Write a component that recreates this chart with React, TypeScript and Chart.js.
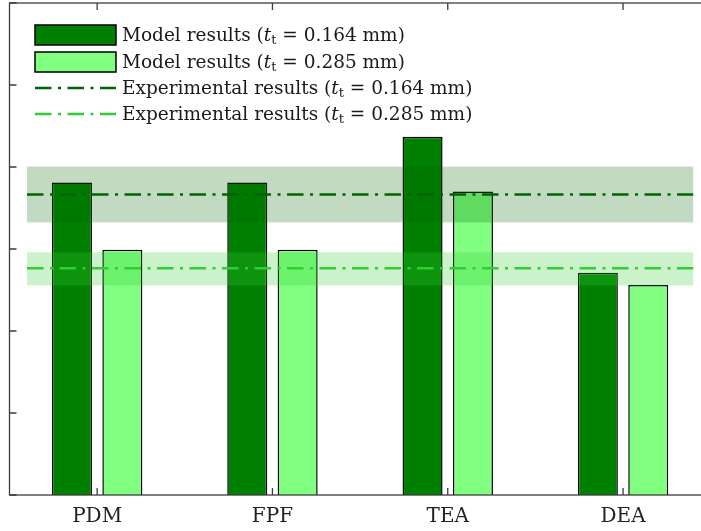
import React, { useEffect, useRef } from 'react';
import { Chart, registerables } from 'chart.js';

Chart.register(...registerables);

// ---- data ----
const categories = ['PDM', 'FPF', 'TEA', 'DEA'];
const model164 = [3.81, 3.81, 4.37, 2.71];
const model285 = [2.99, 2.99, 3.7, 2.56];
// experimental results: [t_t = 0.164 mm, t_t = 0.285 mm]
const expMean = [3.665, 2.765];
const expLow = [3.325, 2.555];
const expHigh = [4.005, 2.96];
const bandSpan = [-0.4, 3.4];
const yTicks = [0, 1, 2, 3, 4, 5, 6];
const legendPrefixes = ['Model results ', 'Model results ', 'Experimental results ', 'Experimental results '];
const legendValues = ['0.164', '0.285', '0.164', '0.285'];

// ---- styles ----
const DARK = '#008000';
const LIGHT = '#80ff80';
const LINE_COLORS = ['#006400', '#32cd32'];
const BAND_COLORS = ['rgba(0,100,0,0.24)', 'rgba(50,205,50,0.25)'];
const DASH = [16.5, 6.5, 3, 6.5];
const FAMILY = '"DejaVu Serif", serif';
const FRAME = '#3c3c3c';

const bandsPlugin = {
  id: 'expBands',
  afterDatasetsDraw(chart: any) {
    const { ctx } = chart;
    const xs = chart.scales.x;
    const ys = chart.scales.y;
    const xa = xs.getPixelForValue(bandSpan[0]);
    const xb = xs.getPixelForValue(bandSpan[1]);
    ctx.save();
    expMean.forEach((_m, i) => {
      const yTop = ys.getPixelForValue(expHigh[i]);
      const yBot = ys.getPixelForValue(expLow[i]);
      ctx.fillStyle = BAND_COLORS[i];
      ctx.fillRect(xa, yTop, xb - xa, yBot - yTop);
    });
    expMean.forEach((m, i) => {
      const y = ys.getPixelForValue(m);
      ctx.strokeStyle = LINE_COLORS[i];
      ctx.lineWidth = 2.5;
      ctx.lineCap = 'butt';
      ctx.setLineDash(DASH);
      ctx.beginPath();
      ctx.moveTo(xa, y);
      ctx.lineTo(xb, y);
      ctx.stroke();
    });
    ctx.setLineDash([]);
    ctx.restore();
  },
};

const framePlugin = {
  id: 'frameTicks',
  afterDraw(chart: any) {
    const { ctx, chartArea } = chart;
    const { left, right, top, bottom } = chartArea;
    const xs = chart.scales.x;
    const ys = chart.scales.y;
    ctx.save();
    ctx.strokeStyle = FRAME;
    ctx.lineWidth = 1.3;
    ctx.strokeRect(left, top, right - left, bottom - top);
    ctx.beginPath();
    yTicks.forEach((v) => {
      const py = ys.getPixelForValue(v);
      ctx.moveTo(left, py);
      ctx.lineTo(left + 7, py);
      ctx.moveTo(right, py);
      ctx.lineTo(right - 7, py);
    });
    categories.forEach((_c, i) => {
      const px = xs.getPixelForValue(i);
      ctx.moveTo(px, bottom);
      ctx.lineTo(px, bottom - 7);
      ctx.moveTo(px, top);
      ctx.lineTo(px, top + 7);
    });
    ctx.stroke();
    ctx.restore();
  },
};

const legendPlugin = {
  id: 'texLegend',
  afterDraw(chart: any) {
    const { ctx } = chart;
    const x0 = 35;
    const w = 81;
    const rows = [35, 62, 88, 114];
    const size = 18.5;
    ctx.save();
    rows.forEach((cy, i) => {
      if (i < 2) {
        ctx.fillStyle = i === 0 ? DARK : LIGHT;
        ctx.fillRect(x0, cy - 10, w, 20);
        ctx.strokeStyle = '#000';
        ctx.lineWidth = 1.5;
        ctx.strokeRect(x0, cy - 10, w, 20);
      } else {
        ctx.strokeStyle = LINE_COLORS[i - 2];
        ctx.lineWidth = 2.5;
        ctx.setLineDash(DASH);
        ctx.beginPath();
        ctx.moveTo(x0, cy);
        ctx.lineTo(x0 + w, cy);
        ctx.stroke();
        ctx.setLineDash([]);
      }
      const by = cy + 6;
      let cx = 122;
      ctx.fillStyle = '#1a1a1a';
      ctx.textBaseline = 'alphabetic';
      ctx.textAlign = 'left';
      const normal = `${size}px ${FAMILY}`;
      ctx.font = normal;
      const pre = legendPrefixes[i] + '(';
      ctx.fillText(pre, cx, by);
      cx += ctx.measureText(pre).width;
      ctx.font = `italic ${size}px ${FAMILY}`;
      ctx.fillText('t', cx, by);
      cx += ctx.measureText('t').width;
      ctx.font = `${Math.round(size * 0.7)}px ${FAMILY}`;
      ctx.fillText('t', cx, by + 3);
      cx += ctx.measureText('t').width;
      ctx.font = normal;
      ctx.fillText(` = ${legendValues[i]} mm)`, cx, by);
    });
    ctx.restore();
  },
};

export default function App() {
  const ref = useRef<HTMLCanvasElement | null>(null);

  useEffect(() => {
    if (!ref.current) return;
    const chart = new Chart(ref.current, {
      type: 'bar',
      data: {
        labels: categories,
        datasets: [
          {
            label: 'Model results (t_t = 0.164 mm)',
            data: model164,
            backgroundColor: DARK,
            borderColor: '#000',
            borderWidth: 1.5,
            categoryPercentage: 0.575,
            barPercentage: 0.794,
          },
          {
            label: 'Model results (t_t = 0.285 mm)',
            data: model285,
            backgroundColor: LIGHT,
            borderColor: '#000',
            borderWidth: 1.5,
            categoryPercentage: 0.575,
            barPercentage: 0.794,
          },
        ],
      },
      options: {
        animation: false,
        responsive: true,
        maintainAspectRatio: false,
        layout: { padding: { left: 9.5, right: 29.3, top: 3, bottom: 0 } },
        plugins: {
          legend: { display: false },
          tooltip: { enabled: false },
        },
        scales: {
          x: {
            type: 'category',
            offset: true,
            grid: { display: false, drawTicks: false },
            border: { display: false },
            ticks: {
              color: '#222',
              padding: 10,
              font: { family: FAMILY, size: 20 },
            },
            afterFit: (s: any) => {
              s.height = 36;
            },
          },
          y: {
            type: 'linear',
            display: false,
            min: 0,
            max: 6,
          },
        },
      } as any,
      plugins: [bandsPlugin, framePlugin, legendPlugin],
    });
    return () => chart.destroy();
  }, []);

  return (
    <div
      style={{
        position: 'fixed',
        left: 0,
        top: 0,
        width: 701,
        height: 531,
        overflow: 'hidden',
        background: '#fff',
      }}
    >
      <div style={{ position: 'relative', width: 740, height: 531 }}>
        <canvas ref={ref} />
      </div>
    </div>
  );
}
